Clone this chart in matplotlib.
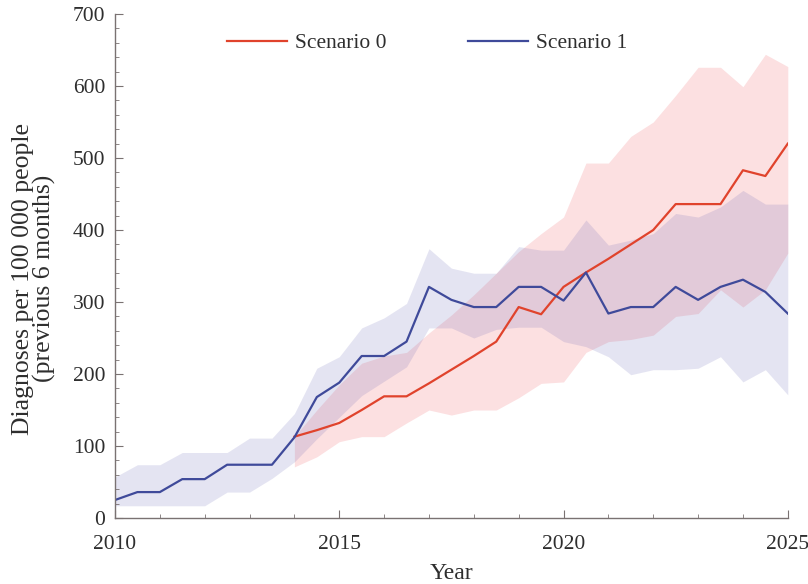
import numpy as np
import matplotlib
matplotlib.use("Agg")
import matplotlib.pyplot as plt
import matplotlib.transforms as mtransforms
from matplotlib.ticker import MultipleLocator

plt.rcParams['font.family'] = ['Liberation Serif', 'DejaVu Serif']

# half-year steps, 2010 to 2025
years = np.arange(2010, 2025.01, 0.5)
years_s0 = np.arange(2014, 2025.01, 0.5)

# Scenario 1 (blue)
s1_mid = [25, 36, 36, 54, 54, 74, 74, 74, 112, 168, 188, 225, 225, 245, 321, 303,
          293, 293, 321, 321, 302, 341, 284, 293, 293, 321, 303, 321, 331, 314, 284]
s1_upper = [57, 74, 74, 91, 91, 91, 111, 111, 145, 208, 224, 264, 278, 298, 374, 347,
            340, 340, 377, 372, 372, 414, 379, 386, 395, 423, 418, 432, 455, 436, 436]
s1_lower = [17, 17, 17, 17, 17, 36, 36, 55, 78, 110, 140, 170, 190, 210, 264, 264,
            250, 262, 265, 265, 245, 238, 224, 199, 206, 206, 208, 224, 189, 206, 171]

# Scenario 0 (red), starts 2014
s0_mid = [113, 122, 132, 150, 169, 169, 187, 206, 225, 245, 293, 283, 321, 341, 360,
          380, 400, 436, 436, 436, 483, 475, 520]
s0_upper = [113, 150, 185, 215, 225, 230, 257, 282, 310, 340, 370, 395, 418, 493, 493,
            530, 550, 587, 626, 626, 599, 644, 627]
s0_lower = [71, 85, 106, 113, 113, 132, 150, 143, 150, 150, 167, 187, 189, 230, 245,
            248, 254, 280, 284, 317, 293, 317, 368]

red = '#e0432c'
blue = '#3f4a9a'
txt = '#2e2e2e'

fig = plt.figure(figsize=(8.08, 5.84), dpi=100)
ax = fig.add_axes([0.1423, 0.113, 0.8327, 0.863])

ax.fill_between(years_s0, s0_lower, s0_upper, color='#f26d72', alpha=0.21, lw=0)
ax.fill_between(years, s1_lower, s1_upper, color='#5c5ab0', alpha=0.16, lw=0)
ax.plot(years_s0, s0_mid, color=red, lw=1.6, label='Scenario 0')
ax.plot(years, s1_mid, color=blue, lw=1.6, label='Scenario 1')

ax.set_xlim(2010, 2025)
ax.set_ylim(0, 700)
ax.xaxis.set_major_locator(MultipleLocator(5))
ax.xaxis.set_minor_locator(MultipleLocator(1))
ax.yaxis.set_major_locator(MultipleLocator(100))
ax.yaxis.set_minor_locator(MultipleLocator(20))

for s in ['top', 'right']:
    ax.spines[s].set_visible(False)
for s in ['left', 'bottom']:
    ax.spines[s].set_color('#7a7272')
    ax.spines[s].set_linewidth(1.0)

ax.tick_params(which='both', direction='in', color='#7a7272', labelcolor=txt)
ax.tick_params(which='major', length=6, labelsize=15.5)
ax.tick_params(which='minor', length=3)
ax.tick_params(axis='x', pad=12)
ax.tick_params(axis='y', pad=7)

ax.set_xlabel('Year', fontsize=17, color=txt, labelpad=7)
ax.set_ylabel('Diagnoses per 100 000 people\n(previous 6 months)', fontsize=18.5,
              color=txt, linespacing=0.95)
ax.yaxis.set_label_coords(-0.087, 0.475)

ax.legend(loc='upper center', bbox_to_anchor=(0.464, 1.0), ncol=2, frameon=False,
          fontsize=15.5, handlelength=2.8, columnspacing=3.8, handletextpad=0.35,
          labelcolor=txt)

# keep the last year label inside the figure
fig.canvas.draw()
last = ax.get_xticklabels()[-1]
last.set_transform(last.get_transform() +
                   mtransforms.ScaledTranslation(-3 / 100, 0, fig.dpi_scale_trans))

fig.savefig('out.png', dpi=100)
